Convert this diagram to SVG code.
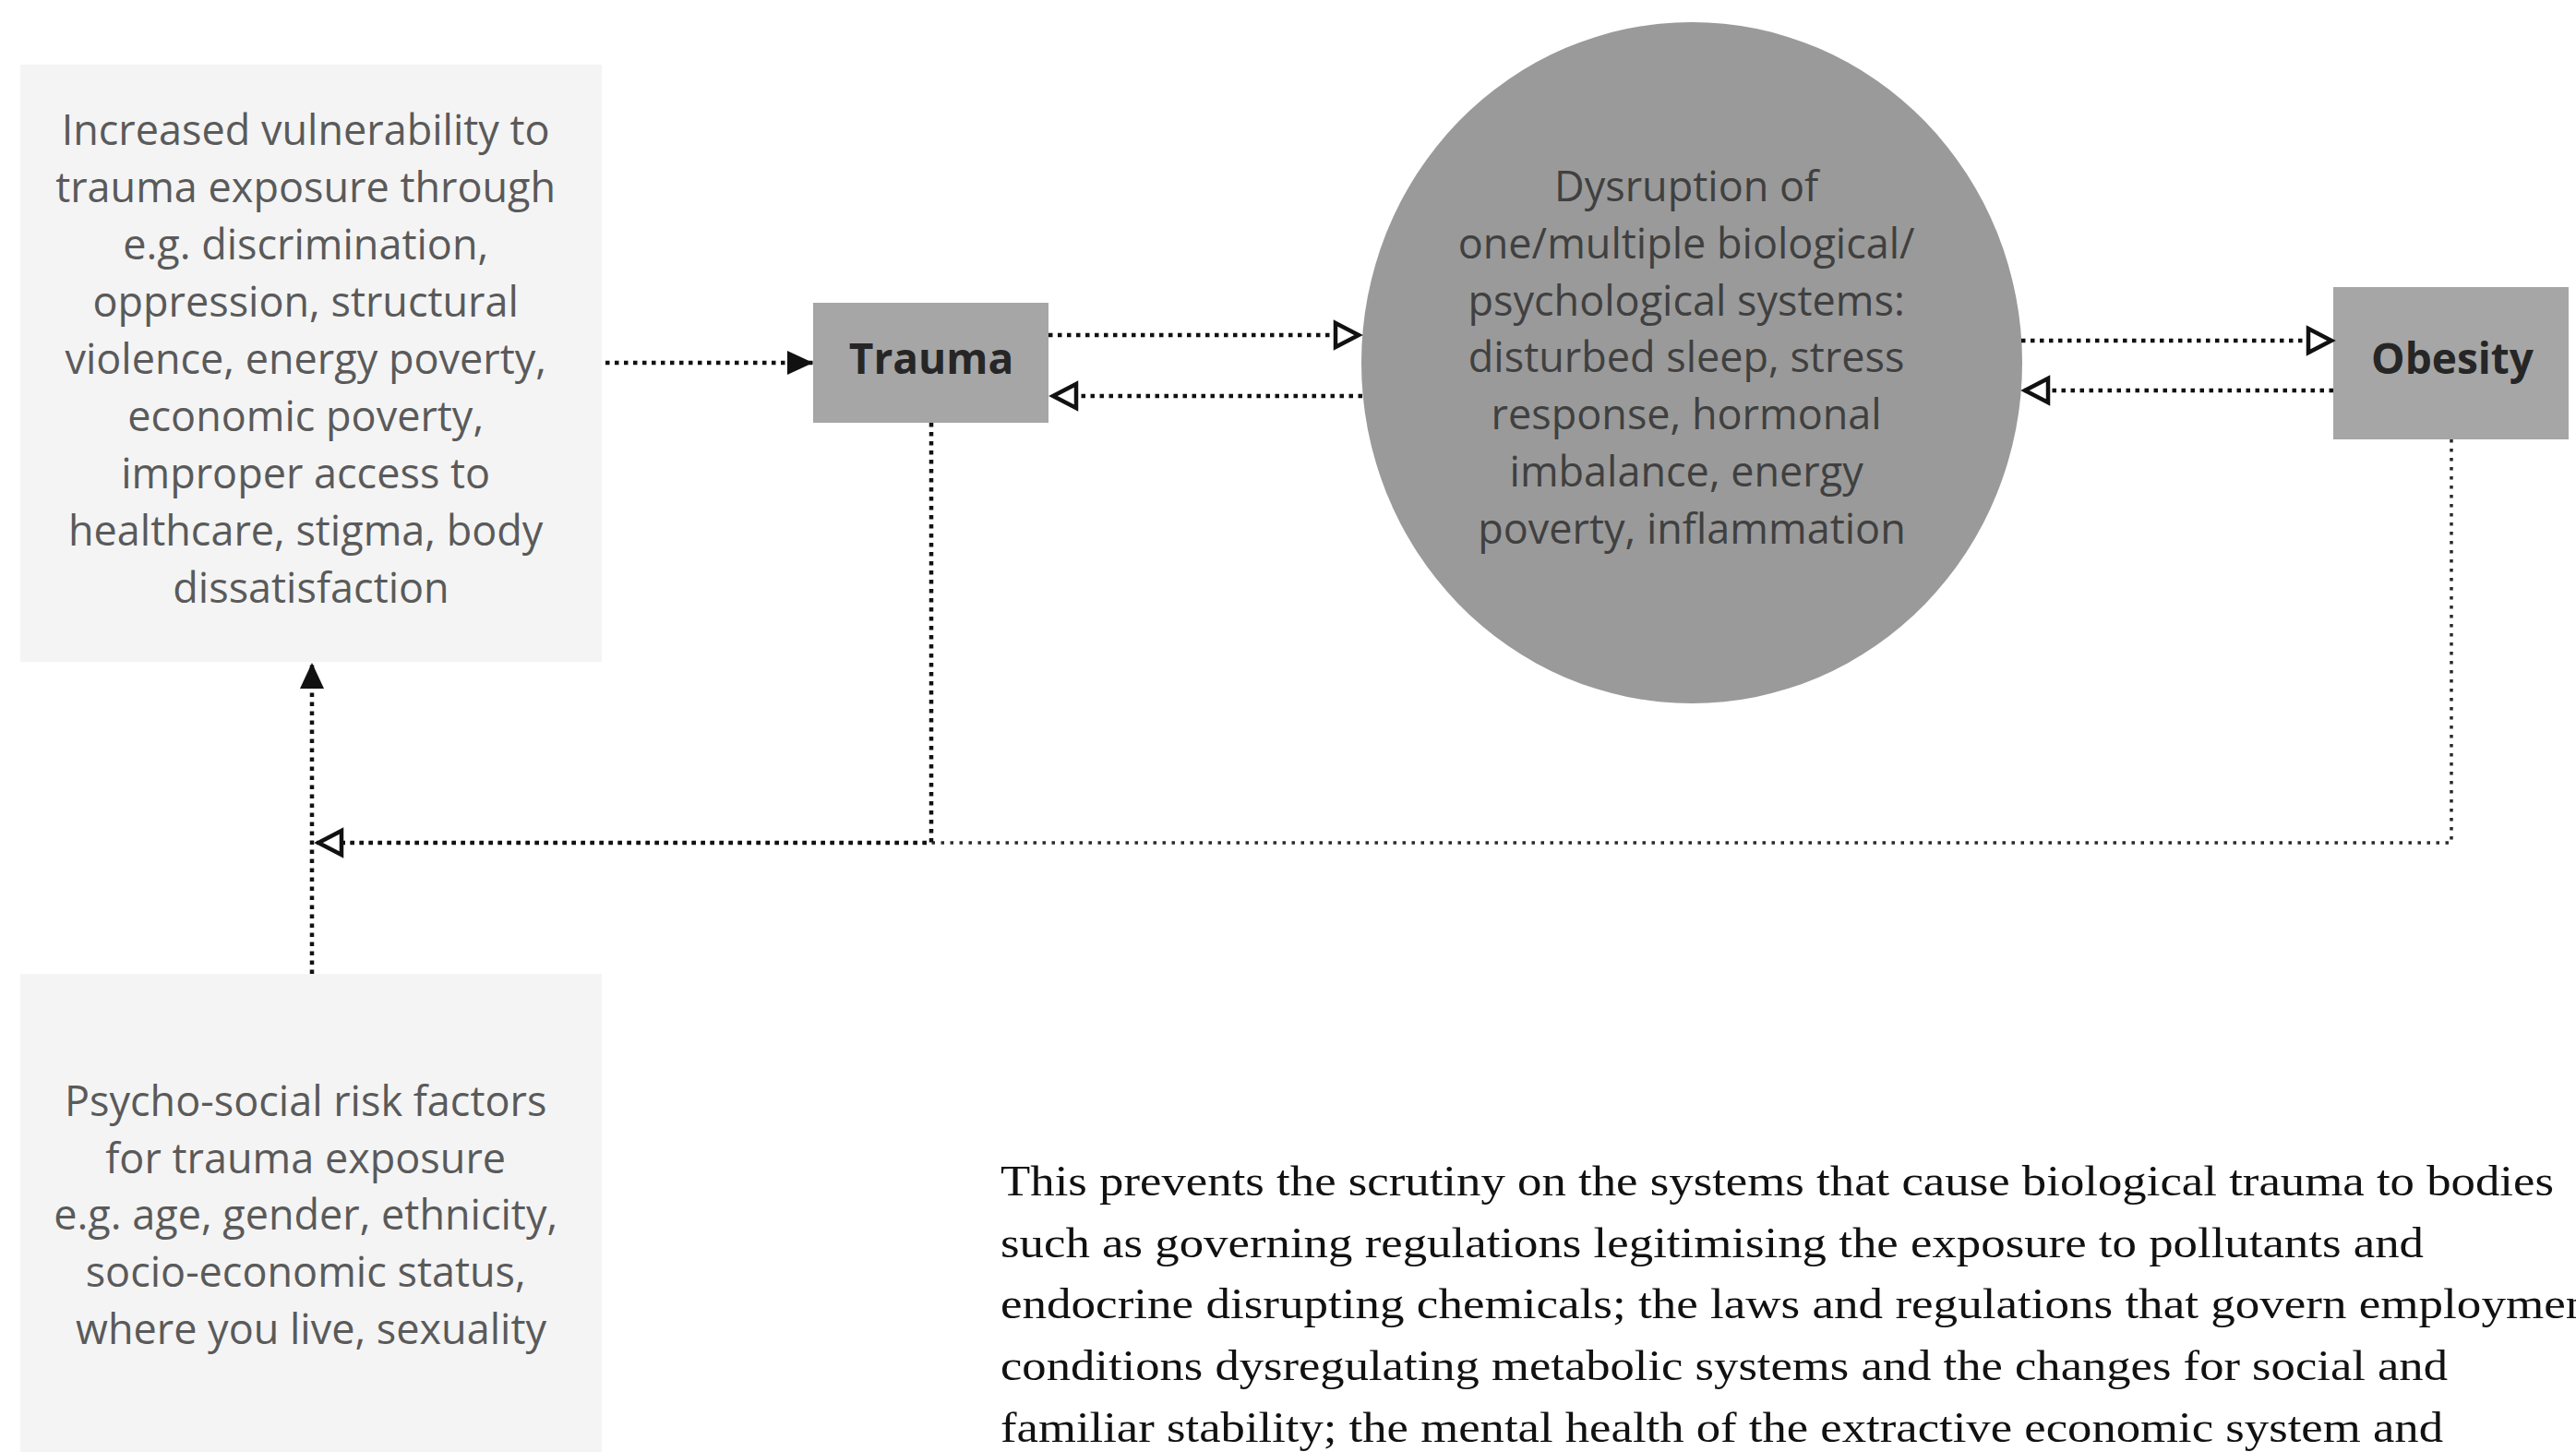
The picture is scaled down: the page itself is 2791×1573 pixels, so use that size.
<svg xmlns="http://www.w3.org/2000/svg" width="2791" height="1573" viewBox="0 0 2791 1573">
  <style>
    .lightbox { fill: #f4f4f4; }
    .greybox { fill: #a6a6a6; }
    .circ { fill: #9a9a9a; }
    .boxtext { font-family: "Open Sans", "Noto Sans", sans-serif; font-size: 45px; fill: #5a5a5a; text-anchor: middle; }
    .circtext { font-family: "Open Sans", "Noto Sans", sans-serif; font-size: 45px; fill: #404040; text-anchor: middle; }
    .bold { font-family: "Open Sans", "Noto Sans", sans-serif; font-size: 46px; font-weight: bold; fill: #262626; text-anchor: middle; }
    .para { font-family: "Liberation Serif", "Times New Roman", serif; font-size: 46px; fill: #111; }
    .dot { fill: none; stroke: #111; stroke-width: 4.5; stroke-dasharray: 4.5 5.5; }
    .dotthin { fill: none; stroke: #2a2a2a; stroke-width: 3.5; stroke-dasharray: 3.5 6.5; }
  </style>
  <defs>
    <marker id="arrFill" viewBox="0 0 28 26" refX="28" refY="13" markerWidth="28" markerHeight="26" markerUnits="userSpaceOnUse" orient="auto">
      <path d="M0,0 L28,13 L0,26 Z" fill="#111"/>
    </marker>
    <marker id="arrOpen" viewBox="0 0 34 34" refX="31" refY="17" markerWidth="34" markerHeight="34" markerUnits="userSpaceOnUse" orient="auto">
      <path d="M4,4 L29,17 L4,30 Z" fill="#fff" stroke="#111" stroke-width="4.5" stroke-linejoin="miter"/>
    </marker>
  </defs>

  <g id="node-vulnerability">
    <rect class="lightbox" x="22" y="70" width="630" height="647"/>
    <text class="boxtext">
      <tspan x="337" y="157">Increased vulnerability to</tspan>
      <tspan x="337" y="219">trauma exposure through</tspan>
      <tspan x="337" y="281">e.g. discrimination,</tspan>
      <tspan x="337" y="343">oppression, structural</tspan>
      <tspan x="337" y="405">violence, energy poverty,</tspan>
      <tspan x="337" y="467">economic poverty,</tspan>
      <tspan x="337" y="529">improper access to</tspan>
      <tspan x="337" y="591">healthcare, stigma, body</tspan>
      <tspan x="337" y="653">dissatisfaction</tspan>
    </text>
  </g>

  <g id="node-risk-factors">
    <rect class="lightbox" x="22" y="1055" width="630" height="518"/>
    <text class="boxtext">
      <tspan x="337" y="1209">Psycho-social risk factors</tspan>
      <tspan x="337" y="1271">for trauma exposure</tspan>
      <tspan x="337" y="1332">e.g. age, gender, ethnicity,</tspan>
      <tspan x="337" y="1394">socio-economic status,</tspan>
      <tspan x="337" y="1456">where you live, sexuality</tspan>
    </text>
  </g>

  <g id="node-trauma">
    <rect class="greybox" x="881" y="328" width="255" height="130"/>
    <text class="bold" x="1009" y="405">Trauma</text>
  </g>

  <g id="node-dysruption">
    <ellipse class="circ" cx="1833" cy="393" rx="358" ry="369"/>
    <text class="circtext">
      <tspan x="1833" y="218">Dysruption of</tspan>
      <tspan x="1833" y="280">one/multiple biological/</tspan>
      <tspan x="1833" y="342">psychological systems:</tspan>
      <tspan x="1833" y="403">disturbed sleep, stress</tspan>
      <tspan x="1833" y="465">response, hormonal</tspan>
      <tspan x="1833" y="527">imbalance, energy</tspan>
      <tspan x="1833" y="589">poverty, inflammation</tspan>
    </text>
  </g>

  <g id="node-obesity">
    <rect class="greybox" x="2528" y="311" width="255" height="165"/>
    <text class="bold" x="2657" y="405">Obesity</text>
  </g>

  <g id="connectors">
    <path class="dot" d="M656,393 H881" marker-end="url(#arrFill)"/>
    <path class="dot" d="M1136,363 H1474" marker-end="url(#arrOpen)"/>
    <path class="dot" d="M1476,429 H1139" marker-end="url(#arrOpen)"/>
    <path class="dot" d="M2190,369 H2528" marker-end="url(#arrOpen)"/>
    <path class="dot" d="M2528,423 H2192" marker-end="url(#arrOpen)"/>
    <path class="dotthin" d="M2656,476 V913 H366"/>
    <path class="dot" d="M1009,458 V913 H343" marker-end="url(#arrOpen)"/>
    <path class="dot" d="M338,1055 V718" marker-end="url(#arrFill)"/>
  </g>

  <g id="paragraph">
    <text class="para" x="1084" y="1295" textLength="1683" lengthAdjust="spacingAndGlyphs">This prevents the scrutiny on the systems that cause biological trauma to bodies</text>
    <text class="para" x="1084" y="1362" textLength="1542" lengthAdjust="spacingAndGlyphs">such as governing regulations legitimising the exposure to pollutants and</text>
    <text class="para" x="1084" y="1428" textLength="1737" lengthAdjust="spacingAndGlyphs">endocrine disrupting chemicals; the laws and regulations that govern employment</text>
    <text class="para" x="1084" y="1495" textLength="1568" lengthAdjust="spacingAndGlyphs">conditions dysregulating metabolic systems and the changes for social and</text>
    <text class="para" x="1084" y="1562" textLength="1563" lengthAdjust="spacingAndGlyphs">familiar stability; the mental health of the extractive economic system and</text>
  </g>
</svg>
